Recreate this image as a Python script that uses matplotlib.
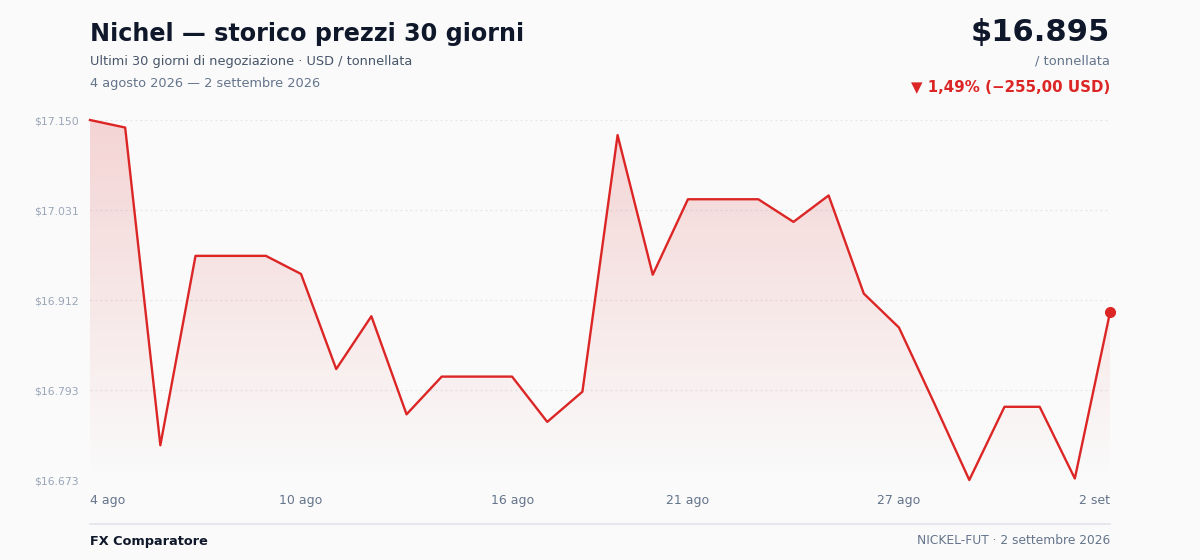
import numpy as np
import matplotlib.pyplot as plt
from matplotlib.colors import LinearSegmentedColormap

# prices, USD / tonnellata, 4 ago -> 2 set 2026
prices = [17150, 17140, 16719, 16970, 16970, 16970, 16946, 16820, 16890, 16760,
          16810, 16810, 16810, 16750, 16790, 17130, 16945, 17045, 17045, 17045,
          17015, 17050, 16920, 16875, 16775, 16673, 16770, 16770, 16675, 16895]
tick_idx = [0, 6, 12, 17, 23, 29]
tick_txt = ["4 ago", "10 ago", "16 ago", "21 ago", "27 ago", "2 set"]
y_ticks_txt = ["$16.673", "$16.793", "$16.912", "$17.031", "$17.150"]

red = "#dc2626"
bg = "#fafafa"
muted = "#64748b"
dark = "#0f172a"

W, H = 1200, 560
fig = plt.figure(figsize=(12, 5.6), dpi=100, facecolor=bg)
ax = fig.add_axes([90 / W, 80 / H, 1020 / W, 360 / H], facecolor=bg)

x = np.arange(len(prices))
y = np.array(prices, dtype=float)
ymin, ymax = min(prices), max(prices)

# gradient area under the line
poly = ax.fill_between(x, y, ymin, color="none", lw=0)
cmap = LinearSegmentedColormap.from_list(
    "g", [(0.86, 0.15, 0.15, 0.0), (0.86, 0.15, 0.15, 0.18)])
grad = np.linspace(0, 1, 256).reshape(-1, 1)
im = ax.imshow(grad, cmap=cmap, aspect="auto", origin="lower",
               extent=[0, len(prices) - 1, ymin, ymax], zorder=1)
im.set_clip_path(poly.get_paths()[0], transform=ax.transData)

ax.plot(x, y, color=red, lw=1.7, zorder=3, clip_on=False)
ax.plot(x[-1], y[-1], "o", color=red, ms=7, zorder=4, clip_on=False)

ax.set_xlim(0, len(prices) - 1)
ax.set_ylim(ymin, ymax)
yt = np.linspace(ymin, ymax, 5)
ax.set_yticks(yt)
ax.set_yticklabels(y_ticks_txt)
ax.grid(axis="y", color="#e2e5ea", lw=0.9, ls=(0, (1.5, 2.5)))
ax.set_axisbelow(True)
for s in ax.spines.values():
    s.set_visible(False)
ax.tick_params(axis="y", length=0, pad=8, labelsize=7.8, labelcolor="#9aa5b8")
ax.tick_params(axis="x", length=0, pad=10, labelsize=9, labelcolor=muted)
ax.set_xticks(tick_idx)
ax.set_xticklabels(tick_txt)
labs = ax.get_xticklabels()
labs[0].set_ha("left")
labs[-1].set_ha("right")

def px(xp, yp):
    return xp / W, 1 - yp / H

fig.text(*px(90, 34), "Nichel — storico prezzi 30 giorni", fontsize=17.2,
         fontweight="bold", color=dark, va="center", ha="left")
fig.text(*px(90, 61), "Ultimi 30 giorni di negoziazione · USD / tonnellata",
         fontsize=9.25, color="#475569", va="center", ha="left")
fig.text(*px(90, 83), "4 agosto 2026 — 2 settembre 2026", fontsize=9.3,
         color=muted, va="center", ha="left")

fig.text(*px(1110, 32), "$16.895", fontsize=22, fontweight="bold",
         color=dark, va="center", ha="right")
fig.text(*px(1110, 61), "/ tonnellata", fontsize=9.4, color=muted,
         va="center", ha="right")
fig.text(*px(1110, 87), "▼ 1,49% (−255,00 USD)", fontsize=10.8,
         fontweight="bold", color=red, va="center", ha="right")

fig.add_artist(plt.Line2D([90 / W, 1110 / W], [1 - 524 / H, 1 - 524 / H],
                          color="#e5e7eb", lw=1.5))
fig.text(*px(90, 541), "FX Comparatore", fontsize=9.3, fontweight="bold",
         color=dark, va="center", ha="left")
fig.text(*px(1110, 541), "NICKEL-FUT · 2 settembre 2026", fontsize=8.8,
         color=muted, va="center", ha="right")

fig.savefig("out.png", dpi=100, facecolor=bg)
